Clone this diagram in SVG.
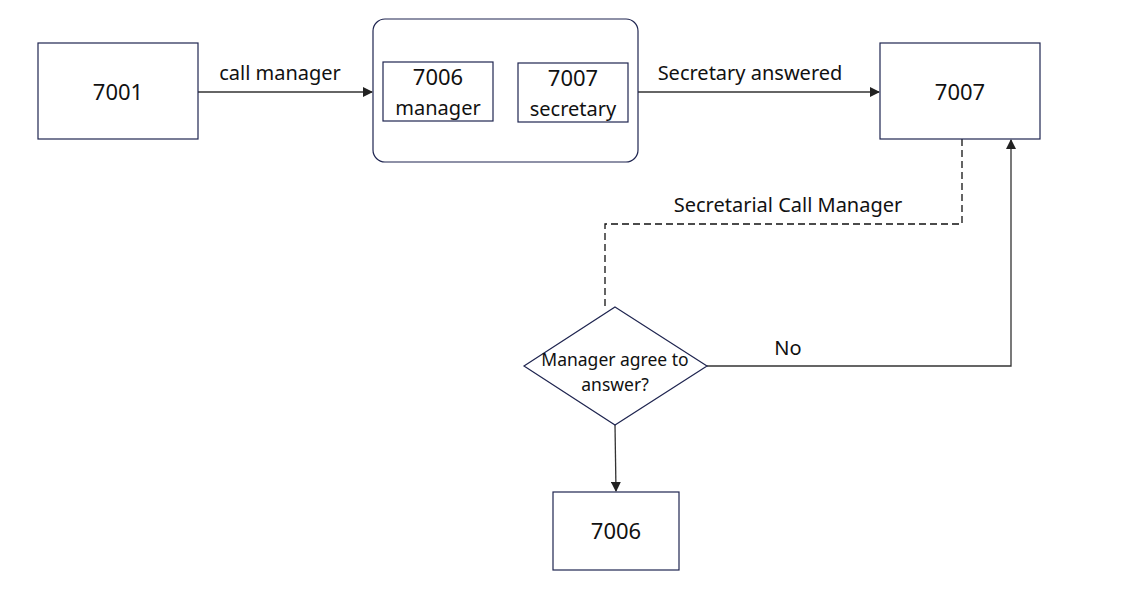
<svg xmlns="http://www.w3.org/2000/svg" width="1137" height="589" viewBox="0 0 1137 589">
<defs>
<style>
.box{fill:#fff;stroke:#1f2550;stroke-width:1.2}
.ln{fill:none;stroke:#333;stroke-width:1.3}
.dash{fill:none;stroke:#111;stroke-width:1.3;stroke-dasharray:7 4}
text{font-family:"Noto Sans","Open Sans",sans-serif;fill:#111;text-anchor:middle}
.big{font-size:22px}
.lbl{font-size:20px}
.sm{font-size:17.5px}
</style>
<marker id="ah" markerWidth="10" markerHeight="10" refX="9" refY="5" orient="auto" markerUnits="userSpaceOnUse">
<path d="M0,0 L10,5 L0,10 Z" fill="#222"/>
</marker>
</defs>
<rect width="1137" height="589" fill="#fff"/>
<g id="connectors">
<line class="ln" x1="198" y1="92" x2="372" y2="92" marker-end="url(#ah)"/>
<line class="ln" x1="638" y1="92" x2="879" y2="92" marker-end="url(#ah)"/>
<polyline class="dash" points="962,139 962,224 605,224 605,306"/>
<polyline class="ln" points="707,366 1011,366 1011,140" marker-end="url(#ah)"/>
<line class="ln" x1="615" y1="425" x2="616" y2="491" marker-end="url(#ah)"/>
<text class="lbl" x="280" y="80">call manager</text>
<text class="lbl" x="750" y="80">Secretary answered</text>
<text class="lbl" x="788" y="212">Secretarial Call Manager</text>
<text class="lbl" x="788" y="355">No</text>
</g>
<g id="n7001">
<rect class="box" x="38" y="43" width="160" height="96"/>
<text class="big" x="118" y="100">7001</text>
</g>
<g id="group">
<rect class="box" x="373" y="19" width="265" height="143" rx="12"/>
<g id="n7006m">
<rect class="box" x="383" y="62" width="110" height="59"/>
<text class="big" x="438" y="85">7006</text>
<text class="lbl" x="438" y="115">manager</text>
</g>
<g id="n7007s">
<rect class="box" x="518" y="63" width="110" height="59"/>
<text class="big" x="573" y="86">7007</text>
<text class="lbl" x="573" y="116">secretary</text>
</g>
</g>
<g id="n7007">
<rect class="box" x="880" y="43" width="160" height="96"/>
<text class="big" x="960" y="100">7007</text>
</g>
<g id="decision">
<polygon class="box" points="615,307 707,366 615,425 524,366"/>
<text class="sm" x="615" y="366">Manager agree to</text>
<text class="sm" x="615" y="391">answer?</text>
</g>
<g id="n7006">
<rect class="box" x="553" y="492" width="126" height="78"/>
<text class="big" x="616" y="539">7006</text>
</g>
</svg>
